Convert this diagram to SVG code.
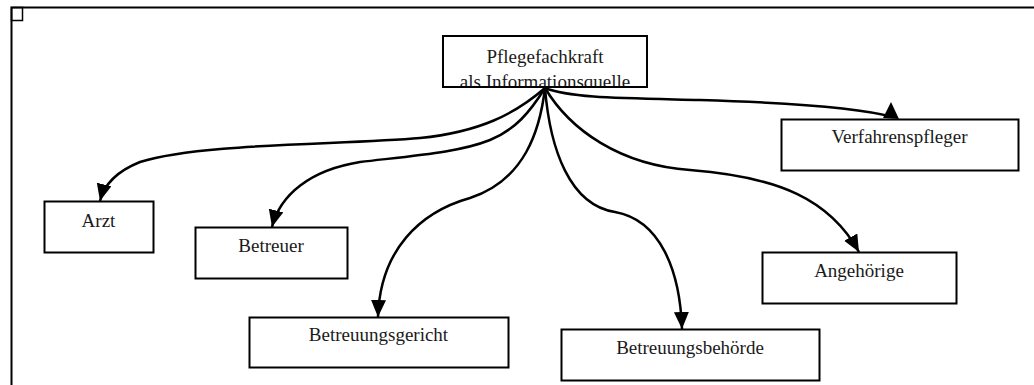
<svg xmlns="http://www.w3.org/2000/svg" width="1034" height="385" viewBox="0 0 1034 385">
<style>
.box{fill:#fff;stroke:#000;stroke-width:2}
.lbl{font-family:"Liberation Serif","DejaVu Serif",serif;font-size:19px;fill:#1a1a1a;text-anchor:middle}
.con{fill:none;stroke:#000;stroke-width:2.5}
.frame{fill:none;stroke:#000;stroke-width:2}
</style>
<defs>
<marker id="ah" markerUnits="userSpaceOnUse" markerWidth="18" markerHeight="16" refX="17" refY="7.5" orient="auto" viewBox="0 0 18 16">
<path d="M0,0 L17,7.5 L0,15 Z" fill="#000"/>
</marker>
<clipPath id="topclip"><rect x="443" y="37" width="204" height="49"/></clipPath>
</defs>
<rect width="1034" height="385" fill="#fff"/>
<g id="frame">
<path class="frame" d="M11.5,385 L11.5,7.5 L1034,7.5"/>
<rect x="11.5" y="7.5" width="11" height="13" fill="none" stroke="#000" stroke-width="1.5"/>
</g>
<g id="connectors">
<path class="con" marker-end="url(#ah)" d="M545,88 C515,114 480,132 420,138 C340,145 200,143 140,162 C115,172 104,185 100,201"/>
<path class="con" marker-end="url(#ah)" d="M545,88 C530,112 515,130 490,140 C460,152 420,155 360,162 C310,170 280,195 272,227"/>
<path class="con" marker-end="url(#ah)" d="M545,88 C540,130 525,180 470,198 C420,212 380,250 378,317"/>
<path class="con" marker-end="url(#ah)" d="M545,88 C550,150 570,205 615,212 C660,220 680,270 682,329"/>
<path class="con" marker-end="url(#ah)" d="M545,88 C570,130 620,165 690,170 C780,177 830,200 859,252"/>
<path class="con" d="M545,88 C570,98 620,98 700,100 C800,103 860,108 893,117"/>
<polygon points="883,118 899,119 891,102" fill="#000"/>
</g>
<g id="node-pflegefachkraft">
<rect class="box" x="443" y="36" width="204" height="51"/>
<g clip-path="url(#topclip)">
<text class="lbl" x="545" y="63">Pflegefachkraft</text>
<text class="lbl" x="545" y="88">als Informationsquelle</text>
</g>
</g>
<g id="node-arzt">
<rect class="box" x="44.5" y="201.5" width="109" height="51"/>
<text class="lbl" x="98.5" y="227">Arzt</text>
</g>
<g id="node-betreuer">
<rect class="box" x="195.5" y="227.5" width="152" height="51"/>
<text class="lbl" x="271" y="252">Betreuer</text>
</g>
<g id="node-betreuungsgericht">
<rect class="box" x="249.5" y="317.5" width="259" height="50"/>
<text class="lbl" x="378.5" y="341">Betreuungsgericht</text>
</g>
<g id="node-betreuungsbehoerde">
<rect class="box" x="561.5" y="329.5" width="258" height="51"/>
<text class="lbl" x="690" y="354">Betreuungsbehörde</text>
</g>
<g id="node-angehoerige">
<rect class="box" x="762.5" y="252.5" width="194" height="51"/>
<text class="lbl" x="859" y="277">Angehörige</text>
</g>
<g id="node-verfahrenspfleger">
<rect class="box" x="781.5" y="119.5" width="237" height="51"/>
<text class="lbl" x="899.5" y="143">Verfahrenspfleger</text>
</g>
</svg>
